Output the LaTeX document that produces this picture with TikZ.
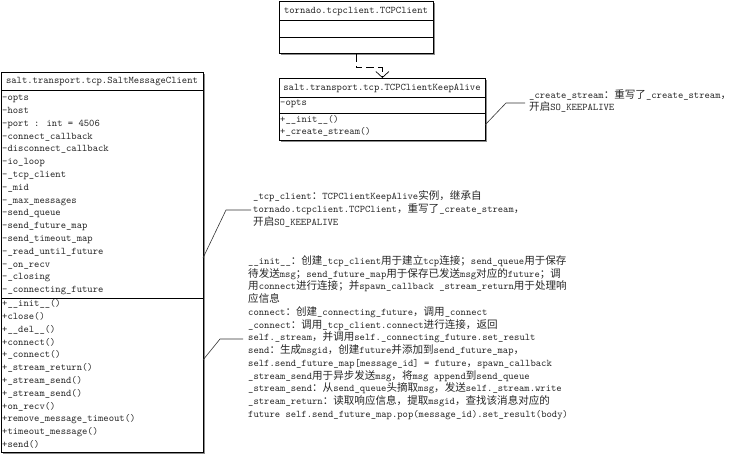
\documentclass[tikz,border=0pt]{standalone}
\usepackage{fontspec}
\newfontfamily\cjkfont{Noto Sans CJK SC}[Scale=1.04]
\usetikzlibrary{arrows.meta,shadows}
\newcommand\zh[1]{{\cjkfont #1}}
\tikzset{
  box/.style={draw=black, line width=0.8pt, fill=white, anchor=north west, inner sep=0pt,
    drop shadow={shadow xshift=1.2pt, shadow yshift=-1.2pt, fill=black!45, opacity=1}},
  txt/.style={inner sep=0pt, text height=8pt, text depth=2.5pt,
    font=\ttfamily\fontsize{10.15}{12.75}\selectfont, text=black!85},
  row/.style={txt, anchor=west},
  ttl/.style={txt, anchor=center},
  sep/.style={line width=0.8pt},
  dep/.style={line width=0.7pt, dash pattern=on 8pt off 4pt, -{Straight Barb[length=6pt,width=13pt]}},
  lead/.style={line width=0.6pt, black!80},
}
\begin{document}
\begin{tikzpicture}[x=1pt,y=-1pt]
\useasboundingbox (0,0) rectangle (732,455);

% tornado.tcpclient.TCPClient
\node[box, minimum width=154pt, minimum height=52pt] (tc) at (279,1) {};
\draw[sep] (279,20) -- (433,20);
\draw[sep] (279,37) -- (433,37);
\node[ttl] (tct) at (356,10.5) {tornado.tcpclient.TCPClient};

% TCPClientKeepAlive
\node[box, minimum width=206pt, minimum height=62pt] (ka) at (279,78) {};
\draw[sep] (279,97) -- (485,97);
\draw[sep] (279,113) -- (485,113);
\node[ttl] (kat) at (382,87.5) {salt.transport.tcp.TCPClientKeepAlive};
\node[row] (kaa1) at (280,103) {-opts};
\node[row] (kam1) at (280,120) {+\_\_init\_\_()};
\node[row] (kam2) at (280,132) {+\_create\_stream()};

% dependency
\draw[dep] (tc.south) -- ++(0,14) -| (ka.north);

% SaltMessageClient
\node[box, minimum width=202pt, minimum height=380pt] (smc) at (1,72) {};
\draw[sep] (1,90) -- (203,90);
\draw[sep] (1,298) -- (203,298);
\node[ttl] (smct) at (102,81) {salt.transport.tcp.SaltMessageClient};
\foreach \t [count=\i] in {{-opts},{-host},{-port : int = 4506},{-connect\_callback},
  {-disconnect\_callback},{-io\_loop},{-\_tcp\_client},{-\_mid},{-\_max\_messages},
  {-send\_queue},{-send\_future\_map},{-send\_timeout\_map},{-\_read\_until\_future},
  {-\_on\_recv},{-\_closing},{-\_connecting\_future}}
  \node[row] (sa\i) at (2,{98+12.8*(\i-1)}) {\t};
\foreach \t [count=\i] in {{+\_\_init\_\_()},{+close()},{+\_\_del\_\_()},{+connect()},
  {+\_connect()},{+\_stream\_return()},{+\_stream\_send()},{+\_stream\_send()},
  {+on\_recv()},{+remove\_message\_timeout()},{+timeout\_message()},{+send()}}
  \node[row] (sm\i) at (2,{304+12.8*(\i-1)}) {\t};

% note 1
\node[row] (n1a) at (529,95.5) {\_create\_stream\zh{：重写了}\_create\_stream\zh{，}};
\node[row] (n1b) at (529,108) {\zh{开启}SO\_KEEPALIVE};
\coordinate (n1s) at (485,125);
\coordinate (n1k) at (506,103);
\coordinate (n1e) at (525,103);
\draw[lead] (n1s) -- (n1k) -- (n1e);

% note 2
\foreach \t [count=\i] in {
  {\_tcp\_client\zh{：}TCPClientKeepAlive\zh{实例，继承自}},
  {tornado.tcpclient.TCPClient\zh{，重写了}\_create\_stream\zh{，}},
  {\zh{开启}SO\_KEEPALIVE}}
  \node[row] (n2l\i) at (253,{197+12.75*(\i-1)}) {\t};
\coordinate (n2s) at (203,258);
\coordinate (n2k) at (226,210);
\coordinate (n2e) at (251,210);
\draw[lead] (n2s) -- (n2k) -- (n2e);

% note 3
\foreach \t [count=\i] in {
  {\_\_init\_\_\zh{：创建}\_tcp\_client\zh{用于建立}tcp\zh{连接；}send\_queue\zh{用于保存}},
  {\zh{待发送}msg\zh{；}send\_future\_map\zh{用于保存已发送}msg\zh{对应的}future\zh{；调}},
  {\zh{用}connect\zh{进行连接；并}spawn\_callback \_stream\_return\zh{用于处理响}},
  {\zh{应信息}},
  {connect\zh{：创建}\_connecting\_future\zh{，调用}\_connect},
  {\_connect\zh{：调用}\_tcp\_client.connect\zh{进行连接，返回}},
  {self.\_stream\zh{，并调用}self.\_connecting\_future.set\_result},
  {send\zh{：生成}msgid\zh{，创建}future\zh{并添加到}send\_future\_map\zh{，}},
  {self.send\_future\_map[message\_id] = future\zh{，}spawn\_callback},
  {\_stream\_send\zh{用于异步发送}msg\zh{，将}msg append\zh{到}send\_queue},
  {\_stream\_send\zh{：从}send\_queue\zh{头摘取}msg\zh{，发送}self.\_stream.write},
  {\_stream\_return\zh{：读取响应信息，提取}msgid\zh{，查找该消息对应的}},
  {future self.send\_future\_map.pop(message\_id).set\_result(body)}}
  \node[row] (n3l\i) at (248,{261.5+12.75*(\i-1)}) {\t};
\coordinate (n3s) at (203,360);
\coordinate (n3k) at (220,339);
\coordinate (n3e) at (243,339);
\draw[lead] (n3s) -- (n3k) -- (n3e);
\end{tikzpicture}
\end{document}
